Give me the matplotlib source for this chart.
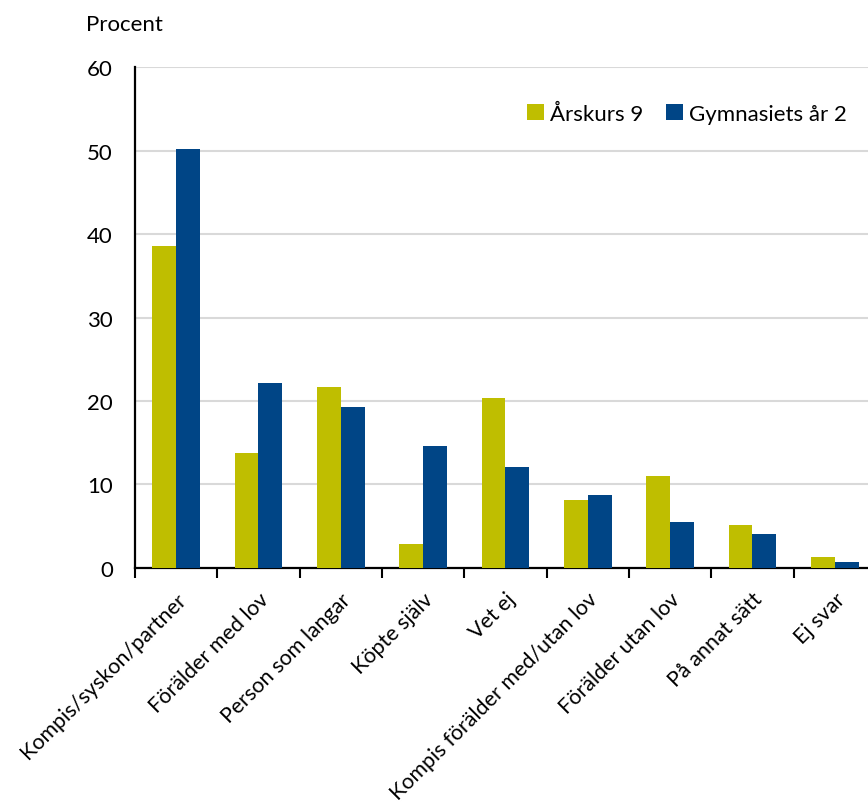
import numpy as np
import matplotlib
matplotlib.use("Agg")
import matplotlib.pyplot as plt
from matplotlib.transforms import ScaledTranslation

# Data (percent)
categories = [
    "Kompis/syskon/partner",
    "Förälder med lov",
    "Person som langar",
    "Köpte själv",
    "Vet ej",
    "Kompis förälder med/utan lov",
    "Förälder utan lov",
    "På annat sätt",
    "Ej svar",
]
arskurs9 = [38.6, 13.8, 21.7, 2.9, 20.3, 8.2, 11.0, 5.2, 1.3]
gymnasiet2 = [50.2, 22.2, 19.3, 14.6, 12.1, 8.8, 5.5, 4.1, 0.7]
series_names = ["Årskurs 9", "Gymnasiets år 2"]
y_ticks = [0, 10, 20, 30, 40, 50, 60]

yellow = "#bfbe00"
blue = "#004586"
fs = 16

plt.rcParams["font.family"] = ["Lato", "DejaVu Sans"]

fig = plt.figure(figsize=(8.68, 8.04), dpi=100)
ax = fig.add_axes([0.1555, 0.2923, 0.8537, 0.6231])

x = np.arange(len(categories))
w = 0.288
ax.bar(x - w / 2, arskurs9, width=w, color=yellow, label=series_names[0], zorder=3)
ax.bar(x + w / 2, gymnasiet2, width=w, color=blue, label=series_names[1], zorder=3)

ax.set_xlim(-0.5, len(categories) - 0.5)
ax.set_ylim(0, 60)
ax.set_yticks(y_ticks)
ax.yaxis.grid(True, color="#d9d9d9", linewidth=1.5, zorder=0)
ax.set_axisbelow(True)

# boundaries get the tick marks, centres get the labels
ax.set_xticks(np.arange(len(categories) + 1) - 0.5)
ax.set_xticklabels([])
ax.set_xticks(x, minor=True)
ax.set_xticklabels(categories, minor=True, rotation=45, ha="right", va="top",
                   rotation_mode="anchor", fontsize=15.5)
shift = ScaledTranslation(-6 / 100, 0, fig.dpi_scale_trans)
for lbl in ax.get_xticklabels(minor=True):
    lbl.set_transform(lbl.get_transform() + shift)
ax.tick_params(axis="x", which="major", length=7, width=1.5, direction="out")
ax.tick_params(axis="x", which="minor", length=0, pad=15)
ax.tick_params(axis="y", length=0, pad=16, labelsize=fs)

for side in ["top", "right"]:
    ax.spines[side].set_visible(False)
for side in ["left", "bottom"]:
    ax.spines[side].set_linewidth(1.6)
    ax.spines[side].set_color("black")

fig.text(86 / 868, 1 - 25 / 804, "Procent", fontsize=fs, ha="left", va="center")

fig.legend(loc="center right", bbox_to_anchor=(856 / 868, 1 - 115 / 804), ncol=2,
           frameon=False, fontsize=fs, handlelength=0.75, handleheight=0.75,
           handletextpad=0.3, columnspacing=1.0, borderaxespad=0)

fig.savefig("out.png", dpi=100)
